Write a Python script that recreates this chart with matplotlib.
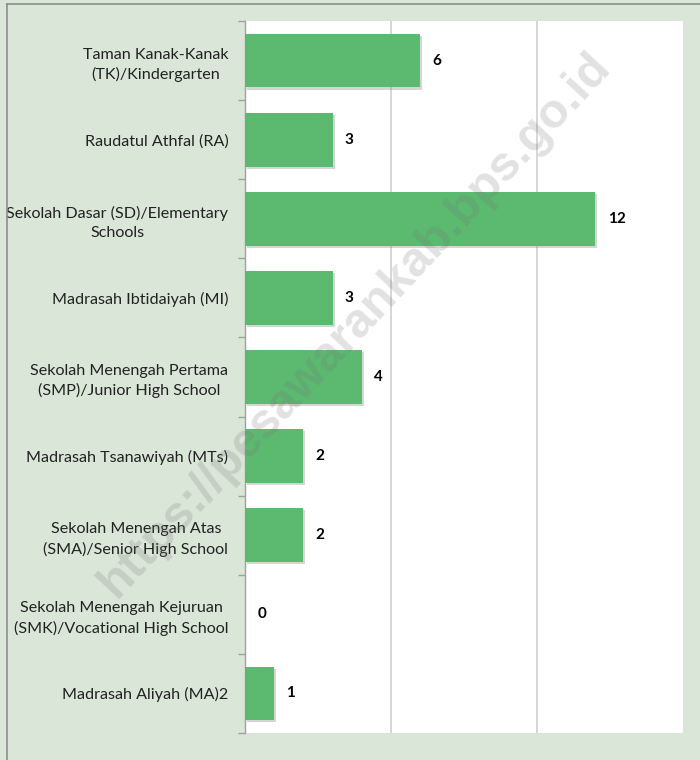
import matplotlib
matplotlib.use("Agg")
import matplotlib.pyplot as plt
from matplotlib.lines import Line2D
import matplotlib.patheffects as pe

categories = [
    "Taman Kanak-Kanak\n(TK)/Kindergarten",
    "Raudatul Athfal (RA)",
    "Sekolah Dasar (SD)/Elementary\nSchools",
    "Madrasah Ibtidaiyah (MI)",
    "Sekolah Menengah Pertama\n(SMP)/Junior High School",
    "Madrasah Tsanawiyah (MTs)",
    "Sekolah Menengah Atas\n(SMA)/Senior High School",
    "Sekolah Menengah Kejuruan\n(SMK)/Vocational High School",
    "Madrasah Aliyah (MA)2",
]
values = [6, 3, 12, 3, 4, 2, 2, 0, 1]

plt.rcParams['font.family'] = ['Lato', 'DejaVu Sans']

fig = plt.figure(figsize=(7, 7.6), dpi=100)
fig.patch.set_facecolor('#dae6d8')
ax = fig.add_axes([0.35, 0.0355, 0.6257, 0.9369])
ax.set_facecolor('white')

n = len(categories)
ypos = list(range(n))
ax.barh(ypos, values, height=0.68, color='#5bb970', zorder=3,
        path_effects=[pe.SimplePatchShadow(offset=(1.5, -1.5), shadow_rgbFace='#888888', alpha=0.35), pe.Normal()])
for y, v in zip(ypos, values):
    ax.text(v + 0.42, y, str(v), va='center', ha='left', fontsize=11,
            fontweight='bold', color='black', zorder=4)

ax.set_xlim(0, 15)
ax.set_ylim(n - 0.5, -0.5)
ax.set_xticks([5, 10])
ax.xaxis.grid(True, color='#cfcfcf', linewidth=1.2, zorder=0)
ax.tick_params(axis='x', length=0, labelbottom=False)

ax.set_yticks(ypos)
ax.set_yticklabels(categories, fontsize=11.6, color='#222222')
for lab in ax.get_yticklabels():
    lab.set_multialignment('center')
    lab.set_linespacing(1.45)
ax.tick_params(axis='y', which='major', length=0, pad=12)
ax.set_yticks([i - 0.5 for i in range(n + 1)], minor=True)
ax.tick_params(axis='y', which='minor', length=5, width=1, color='#a0a0a0', direction='out')

for s in ['top', 'bottom']:
    ax.spines[s].set_visible(False)
ax.spines['right'].set_color('#e0e0e0')
ax.spines['left'].set_color('#a0a0a0')
ax.spines['left'].set_linewidth(1.0)

# outer frame (left and top)
fig.add_artist(Line2D([6.5/700, 6.5/700], [0, 1 - 3.5/760], transform=fig.transFigure, color='#8c8c8c', lw=1.2))
fig.add_artist(Line2D([6.5/700, 1], [1 - 3.5/760, 1 - 3.5/760], transform=fig.transFigure, color='#8c8c8c', lw=1.2))

# watermark
fig.text(355/700, 1 - 325/760, "https://pesawarankab.bps.go.id", rotation=47,
         fontsize=35, fontweight='bold', color='#7a7a7a', alpha=0.22,
         ha='center', va='center', family=['Liberation Sans', 'DejaVu Sans'], zorder=10)

fig.savefig('out.png', dpi=100, facecolor=fig.get_facecolor())
